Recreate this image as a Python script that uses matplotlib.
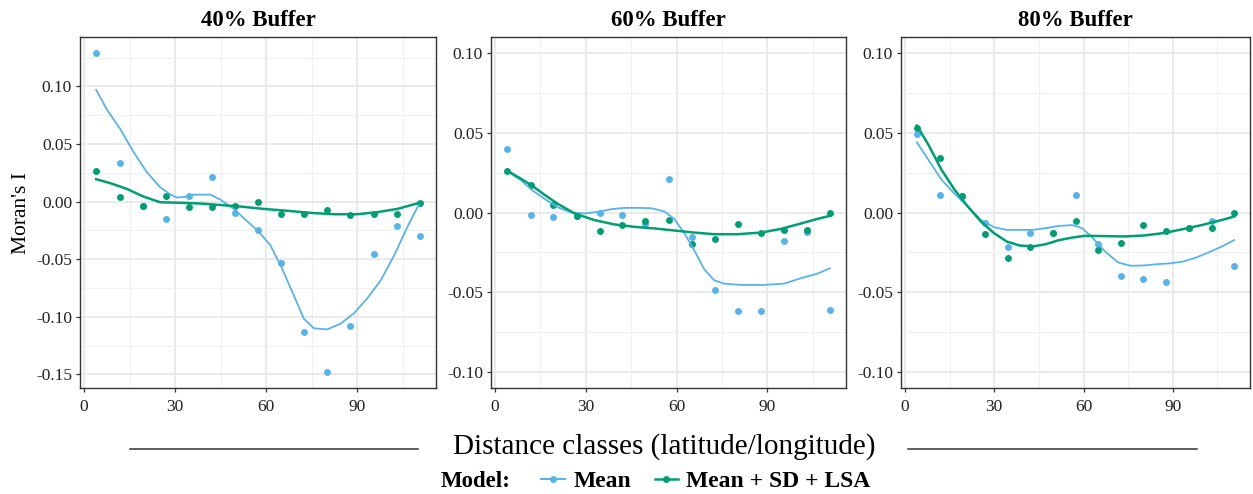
import matplotlib

matplotlib.use("Agg")
import matplotlib.pyplot as plt
from matplotlib.lines import Line2D
from matplotlib.ticker import MultipleLocator, FormatStrFormatter

BLUE = "#56B4E9"
GREEN = "#009E73"

plt.rcParams.update(
    {
        "font.family": "Liberation Serif",
        "axes.unicode_minus": False,
        "axes.edgecolor": "#333333",
        "axes.linewidth": 1.0,
        "xtick.color": "#333333",
        "ytick.color": "#333333",
        "xtick.labelcolor": "#222222",
        "ytick.labelcolor": "#222222",
    }
)

# distance class centres
dist = [4.0, 11.8, 19.3, 27.0, 34.6, 42.1, 49.7, 57.3, 65.0, 72.6, 80.1, 87.7, 95.4, 103.0, 110.6]

# observed Moran's I, 40% buffer
b40_mean = [0.129, 0.0335, -0.004, -0.015, 0.005, 0.021, -0.0098, -0.025, -0.0535, -0.113, -0.148, -0.108, -0.0457, -0.021, -0.030]
b40_lsa = [0.0266, 0.004, -0.004, 0.0046, -0.005, -0.005, -0.004, 0.0, -0.011, -0.011, -0.007, -0.012, -0.011, -0.011, -0.001]
# 60% buffer
b60_mean = [0.0395, -0.0015, -0.0027, -0.002, 0.0, -0.0013, -0.007, 0.0209, -0.0155, -0.0485, -0.0617, -0.0617, -0.0178, -0.0121, -0.0609]
b60_lsa = [0.0262, 0.017, 0.0044, -0.0023, -0.0113, -0.0077, -0.0054, -0.0048, -0.0199, -0.0163, -0.0069, -0.013, -0.0107, -0.0107, -0.0004]
# 80% buffer
b80_mean = [0.0495, 0.011, 0.0104, -0.0063, -0.0215, -0.0127, -0.013, 0.011, -0.0198, -0.040, -0.0415, -0.0438, -0.010, -0.0054, -0.0336]
b80_lsa = [0.0528, 0.0344, 0.0104, -0.0136, -0.0286, -0.0215, -0.0127, -0.0056, -0.0236, -0.0192, -0.0077, -0.0115, -0.0098, -0.0098, -0.0006]

# smoothed trends
s40_mean_x = [4.0, 7.5, 11.9, 16.3, 20.7, 25.1, 28.4, 30.6, 33.0, 36.0, 41.6, 44.9, 49.3, 53.7, 57.5, 61.4, 65.2, 69.1, 72.4, 75.7, 80.1, 84.5, 88.9, 93.3, 97.7, 102.1, 106.5, 110.6]
s40_mean_y = [0.097, 0.080, 0.063, 0.043, 0.0254, 0.0124, 0.0062, 0.0035, 0.004, 0.006, 0.006, 0.0017, -0.0064, -0.017, -0.026, -0.038, -0.058, -0.0815, -0.1017, -0.110, -0.111, -0.106, -0.097, -0.084, -0.0685, -0.047, -0.022, -0.001]
s40_lsa_x = [4.0, 8.6, 14.1, 19.6, 25.1, 30.6, 38.3, 44.9, 51.5, 59.2, 66.9, 74.6, 82.3, 90.0, 96.6, 103.2, 110.6]
s40_lsa_y = [0.0194, 0.016, 0.011, 0.0043, -0.0006, -0.001, -0.0017, -0.003, -0.0043, -0.0064, -0.008, -0.0098, -0.011, -0.011, -0.0092, -0.0064, -0.001]

s60_mean_x = [4.0, 8.8, 12.1, 16.5, 20.9, 25.2, 29.6, 34.0, 38.4, 42.8, 47.2, 51.6, 56.0, 59.3, 62.6, 65.9, 69.1, 72.4, 75.7, 81.2, 88.9, 95.5, 101.0, 106.5, 110.6]
s60_mean_y = [0.026, 0.0199, 0.0142, 0.0084, 0.0031, 0.0, -0.0006, 0.0004, 0.0021, 0.0029, 0.0029, 0.0027, 0.0006, -0.0042, -0.0132, -0.024, -0.0356, -0.0425, -0.0446, -0.0454, -0.0454, -0.0446, -0.0412, -0.0383, -0.035]
s60_lsa_x = [4.0, 8.8, 12.1, 16.5, 20.9, 26.3, 32.9, 39.5, 46.1, 52.7, 59.3, 65.9, 72.4, 80.1, 87.8, 94.4, 101.0, 106.5, 110.6]
s60_lsa_y = [0.0262, 0.0209, 0.017, 0.0109, 0.0052, -0.0006, -0.0048, -0.0075, -0.009, -0.010, -0.0113, -0.0126, -0.0136, -0.0136, -0.0126, -0.0103, -0.0069, -0.004, -0.0021]

s80_mean_x = [4.0, 7.9, 12.3, 16.7, 21.1, 25.5, 29.9, 34.2, 38.6, 43.0, 47.4, 51.8, 56.2, 59.5, 62.8, 67.2, 71.6, 75.9, 80.3, 84.7, 89.1, 93.5, 97.9, 102.3, 106.7, 110.6]
s80_mean_y = [0.044, 0.033, 0.0205, 0.0117, 0.0038, -0.0046, -0.0092, -0.0109, -0.0109, -0.0109, -0.0098, -0.0084, -0.0079, -0.0098, -0.0154, -0.0244, -0.0313, -0.0334, -0.0332, -0.0324, -0.0319, -0.0307, -0.0282, -0.0248, -0.0211, -0.0173]
s80_lsa_x = [4.0, 7.9, 12.3, 16.7, 21.1, 25.5, 29.9, 34.2, 38.6, 43.0, 47.4, 51.8, 56.2, 60.6, 67.2, 73.8, 80.3, 86.9, 93.5, 100.1, 106.7, 110.6]
s80_lsa_y = [0.0545, 0.0424, 0.0267, 0.0142, 0.0038, -0.0056, -0.0129, -0.0182, -0.0207, -0.0213, -0.0198, -0.0173, -0.0157, -0.0146, -0.0148, -0.015, -0.0144, -0.0129, -0.0104, -0.0077, -0.0046, -0.0025]

panels = [
    ("40% Buffer", b40_mean, b40_lsa, (s40_mean_x, s40_mean_y), (s40_lsa_x, s40_lsa_y), None),
    ("60% Buffer", b60_mean, b60_lsa, (s60_mean_x, s60_mean_y), (s60_lsa_x, s60_lsa_y), (-0.1, 0.1)),
    ("80% Buffer", b80_mean, b80_lsa, (s80_mean_x, s80_mean_y), (s80_lsa_x, s80_lsa_y), (-0.1, 0.1)),
]

W, H = 1253, 494
fig = plt.figure(figsize=(W / 100, H / 100), dpi=100)
fig.patch.set_facecolor("white")

boxes = [(80, 436), (491, 846), (901, 1250)]
top_px, bot_px = 37, 388

xr = max(dist) - min(dist)
xlim = (min(dist) - 0.05 * xr, max(dist) + 0.05 * xr)

for (title, ymean, ylsa, smean, slsa, yrange), (l, r) in zip(panels, boxes):
    ax = fig.add_axes([l / W, 1 - bot_px / H, (r - l) / W, (bot_px - top_px) / H])
    ax.set_axisbelow(True)

    ax.plot(dist, ymean, "o", ms=5.0, color=BLUE, mec="none", zorder=3)
    ax.plot(dist, ylsa, "o", ms=5.0, color=GREEN, mec="none", zorder=3)
    ax.plot(smean[0], smean[1], "-", color=BLUE, lw=1.3, zorder=4)
    ax.plot(slsa[0], slsa[1], "-", color=GREEN, lw=1.8, zorder=4)

    ax.set_xlim(*xlim)
    if yrange is None:
        lo = min(ymean + ylsa + smean[1] + slsa[1])
        hi = max(ymean + ylsa + smean[1] + slsa[1])
    else:
        lo, hi = yrange
    pad = 0.05 * (hi - lo)
    ax.set_ylim(lo - pad, hi + pad)

    ax.xaxis.set_major_locator(MultipleLocator(30))
    ax.xaxis.set_minor_locator(MultipleLocator(15))
    ax.yaxis.set_major_locator(MultipleLocator(0.05))
    ax.yaxis.set_minor_locator(MultipleLocator(0.025))
    ax.yaxis.set_major_formatter(FormatStrFormatter("%.2f"))

    ax.grid(True, which="major", color="#E8E8E8", lw=1.3)
    ax.grid(True, which="minor", color="#F0F0F0", lw=0.8)
    ax.tick_params(which="major", length=3.2, width=0.9, labelsize=12.5, pad=2.5)
    ax.tick_params(axis="x", which="major", pad=4.5)
    ax.tick_params(which="minor", length=0)
    for sp in ax.spines.values():
        sp.set_color("#333333")

    ax.set_title(title, fontsize=16.5, fontweight="bold", pad=8)

fig.text(22 / W, 1 - 213 / H, "Moran's I", rotation=90, ha="center", va="center", fontsize=15.5)

# shared x title with rules either side
fig.text(664 / W, 1 - 447 / H, "Distance classes (latitude/longitude)", ha="center", va="center", fontsize=21)
fig.add_artist(Line2D([130 / W, 418 / W], [1 - 449 / H, 1 - 449 / H], color="#333333", lw=1.1))
fig.add_artist(Line2D([908 / W, 1197 / W], [1 - 449 / H, 1 - 449 / H], color="#333333", lw=1.1))

# legend
handles = [
    Line2D([], [], color=BLUE, lw=1.5, marker="o", ms=5.0, mec="none"),
    Line2D([], [], color=GREEN, lw=1.8, marker="o", ms=5.0, mec="none"),
]
fig.text(476 / W, 1 - 481 / H, "Model:", ha="center", va="center", fontsize=16.5, fontweight="bold")
fig.legend(
    handles,
    ["Mean", "Mean + SD + LSA"],
    loc="center",
    bbox_to_anchor=(706 / W, 1 - 481 / H),
    ncol=2,
    frameon=False,
    prop={"family": "Liberation Serif", "weight": "bold", "size": 17},
    handlelength=1.0,
    handletextpad=0.35,
    columnspacing=1.0,
)

plt.savefig("out.png", dpi=100, facecolor="white")
plt.close(fig)
